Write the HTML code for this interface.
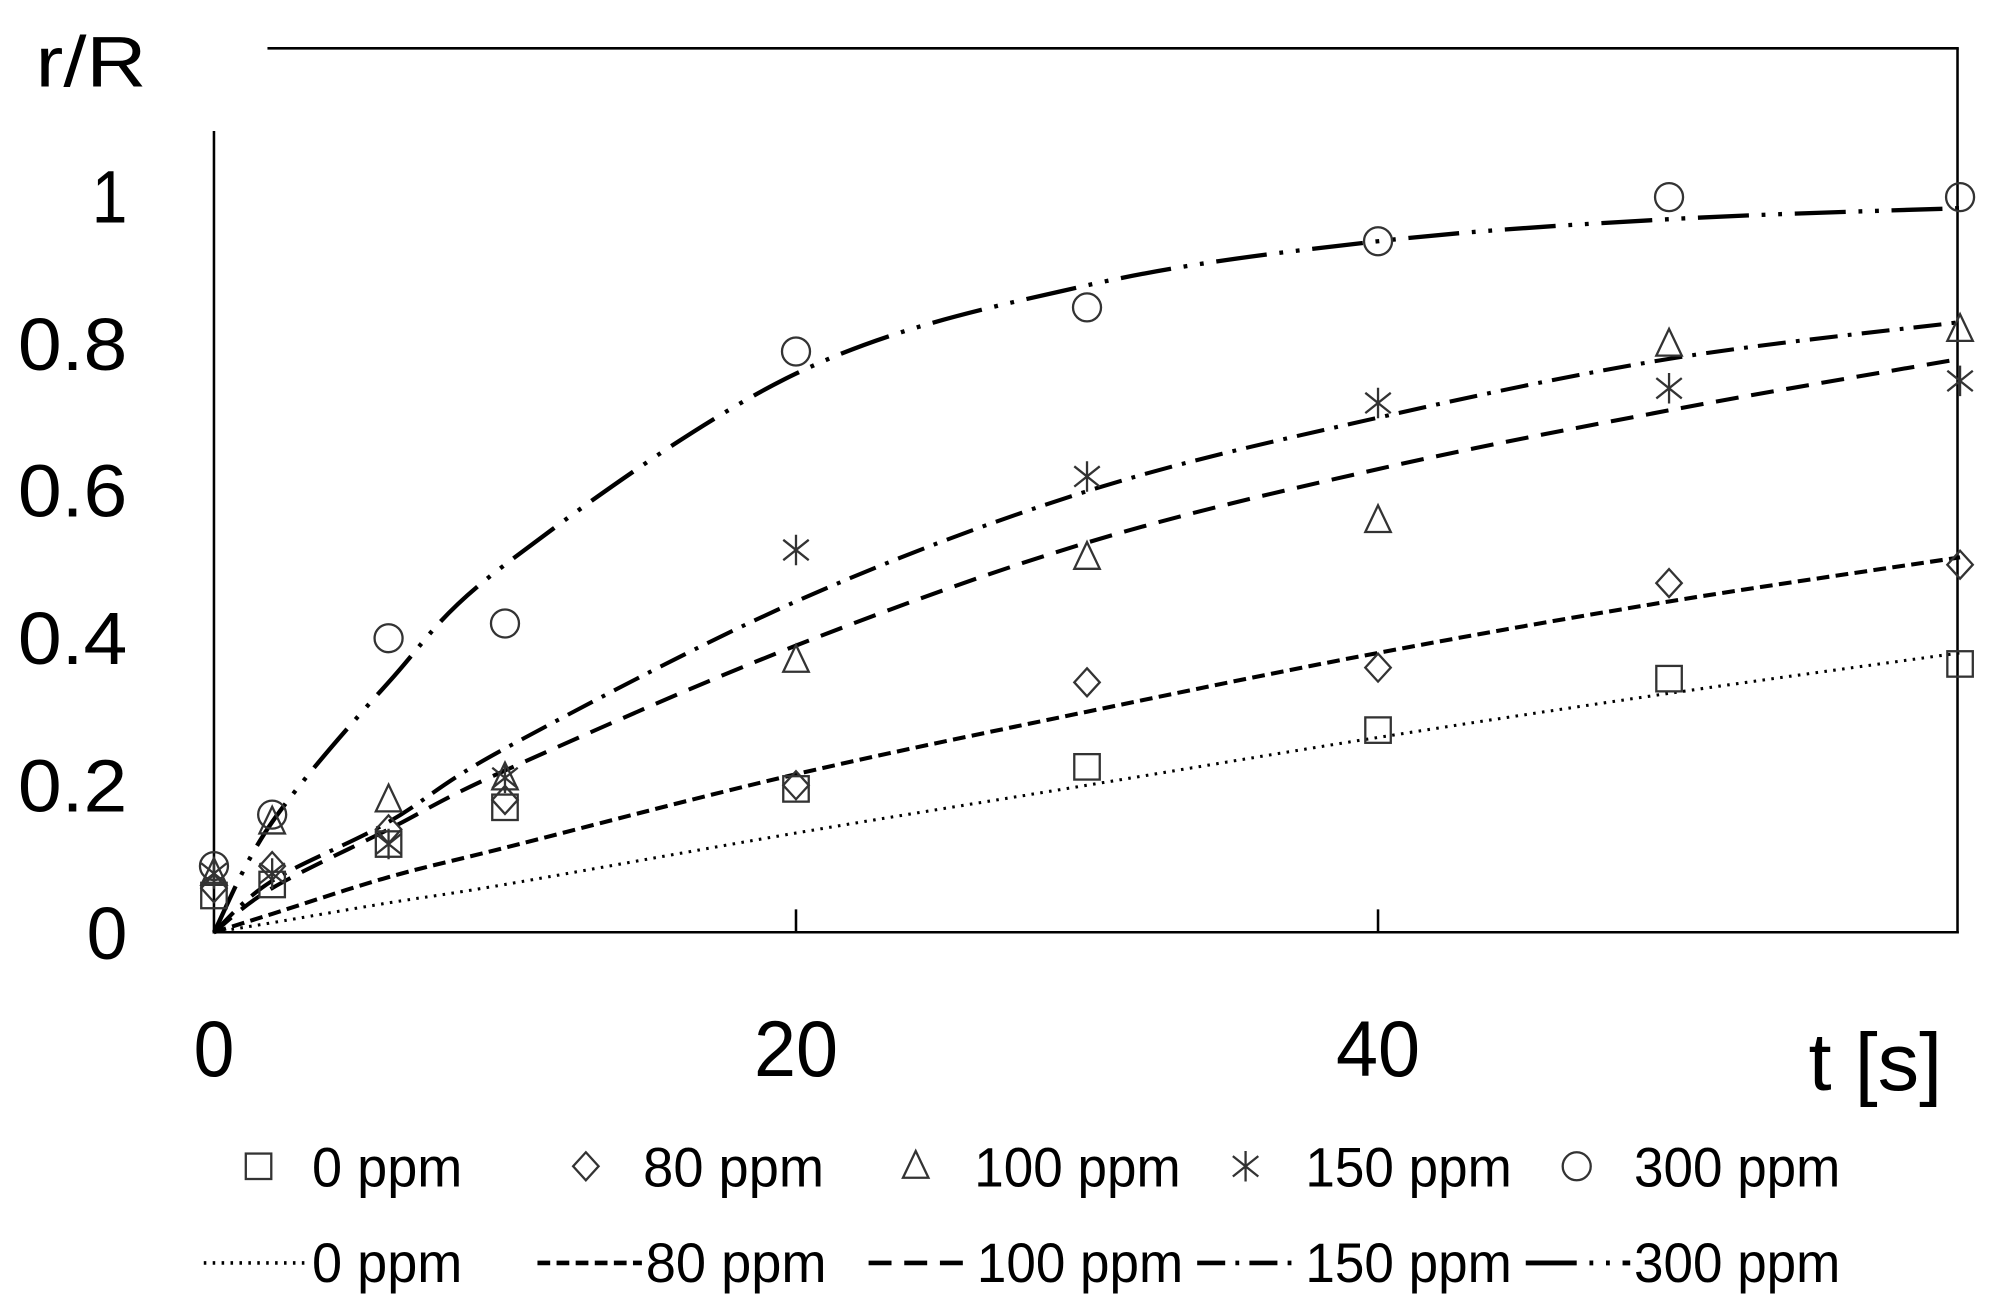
<!DOCTYPE html>
<html><head><meta charset="utf-8"><style>
html,body{margin:0;padding:0;background:#fff;}
svg{display:block;}
text{font-family:"Liberation Sans",sans-serif;fill:#000;}
</style></head><body>
<svg id="s" width="1997" height="1310" viewBox="0 0 1568 1030" preserveAspectRatio="none" xmlns="http://www.w3.org/2000/svg">
<rect width="1568" height="1030" fill="#fff"/>
<g stroke="#000" stroke-width="2" fill="none">
<line x1="168" y1="103" x2="168" y2="734"/>
<line x1="167" y1="733" x2="1538" y2="733"/>
<line x1="210" y1="38" x2="1538" y2="38"/>
<line x1="1537" y1="38" x2="1537" y2="734"/>
<line x1="625" y1="715" x2="625" y2="733"/>
<line x1="1082" y1="715" x2="1082" y2="733"/>
</g>
<g font-size="58" text-anchor="end">
<text x="100" y="175" textLength="28" lengthAdjust="spacingAndGlyphs">1</text>
<text x="100" y="291" textLength="86" lengthAdjust="spacingAndGlyphs">0.8</text>
<text x="100" y="406" textLength="86" lengthAdjust="spacingAndGlyphs">0.6</text>
<text x="100" y="522" textLength="86" lengthAdjust="spacingAndGlyphs">0.4</text>
<text x="100" y="638" textLength="86" lengthAdjust="spacingAndGlyphs">0.2</text>
<text x="100" y="754" textLength="32" lengthAdjust="spacingAndGlyphs">0</text>
</g>
<g font-size="62" text-anchor="middle">
<text x="168" y="846" textLength="32" lengthAdjust="spacingAndGlyphs">0</text>
<text x="625" y="846" textLength="66" lengthAdjust="spacingAndGlyphs">20</text>
<text x="1082" y="846" textLength="66" lengthAdjust="spacingAndGlyphs">40</text>
</g>
<text x="28" y="68" font-size="56" textLength="87" lengthAdjust="spacingAndGlyphs">r/R</text>
<text x="1420" y="857" font-size="64" textLength="105" lengthAdjust="spacingAndGlyphs">t [s]</text>
<g id="plot"></g>
<g id="leg" font-size="44"></g>
</svg>
<script>
var NS="http://www.w3.org/2000/svg";
function X(t){return 168+22.85*t;}
function Y(v){return 733-578*v;}
function el(n,a,p){var e=document.createElementNS(NS,n);for(var k in a)e.setAttribute(k,a[k]);(p||document.getElementById('plot')).appendChild(e);return e;}
var T=[0,2,6,10,20,30,40,50,60];
var lines=[
 {d:"2 5",w:2.4,v:[0,0.013,0.04,0.065,0.135,0.2,0.265,0.325,0.38]},
 {d:"10 5",w:3.2,v:[0,0.025,0.075,0.115,0.215,0.3,0.38,0.45,0.51]},
 {d:"18 10",w:3.2,v:[0,0.06,0.14,0.22,0.39,0.53,0.63,0.71,0.78]},
 {d:"22 8 3 8",w:3.2,v:[0,0.07,0.15,0.25,0.45,0.6,0.7,0.78,0.83]},
 {d:"40 10 3 10 3 10",w:3.4,v:[0,0.15,0.34,0.5,0.76,0.88,0.94,0.97,0.985]}
];
function smooth(P){var d="M"+P[0][0]+" "+P[0][1];
 for(var i=0;i<P.length-1;i++){var p0=P[Math.max(0,i-1)],p1=P[i],p2=P[i+1],p3=P[Math.min(P.length-1,i+2)];
  var c1=[p1[0]+(p2[0]-p0[0])/6,p1[1]+(p2[1]-p0[1])/6],c2=[p2[0]-(p3[0]-p1[0])/6,p2[1]-(p3[1]-p1[1])/6];
  d+=" C"+c1[0]+" "+c1[1]+" "+c2[0]+" "+c2[1]+" "+p2[0]+" "+p2[1];}
 return d;}
lines.forEach(function(L){var P=T.map(function(t,i){return [X(t),Y(L.v[i])];});
 el('path',{d:smooth(P),fill:"none",stroke:"#000","stroke-width":L.w,"stroke-dasharray":L.d});});
var pts={
 sq:[0.05,0.065,0.12,0.17,0.195,0.225,0.275,0.345,0.365],
 di:[0.06,0.09,0.14,0.18,0.2,0.34,0.36,0.475,0.5],
 tr:[0.08,0.15,0.18,0.21,0.37,0.51,0.56,0.80,0.82],
 st:[0.08,0.08,0.12,0.21,0.52,0.62,0.72,0.74,0.75],
 ci:[0.09,0.16,0.40,0.42,0.79,0.85,0.94,1.0,1.0]};
var sty={fill:"none",stroke:"#333","stroke-width":1.8};
function mk(type,x,y,p){var a=Object.assign({},sty);
 if(type=='sq'){a.x=x-10;a.y=y-10;a.width=20;a.height=20;el('rect',a,p);}
 else if(type=='di'){a.points=(x)+","+(y-11)+" "+(x+10)+","+y+" "+x+","+(y+11)+" "+(x-10)+","+y;el('polygon',a,p);}
 else if(type=='tr'){a.points=x+","+(y-12)+" "+(x+10)+","+(y+9)+" "+(x-10)+","+(y+9);el('polygon',a,p);}
 else if(type=='st'){var d="M"+x+" "+(y-12)+"V"+(y+12)+"M"+(x-10)+" "+(y-8)+"L"+(x+10)+" "+(y+8)+"M"+(x-10)+" "+(y+8)+"L"+(x+10)+" "+(y-8);a.d=d;el('path',a,p);}
 else {a.cx=x;a.cy=y;a.r=11;el('circle',a,p);}
}
for(var k in pts){pts[k].forEach(function(v,i){mk(k,X(T[i]),Y(v));});}
var lg=document.getElementById('leg');
var labs=["0 ppm","80 ppm","100 ppm","150 ppm","300 ppm"];
var mx=[203,460,719,978,1238], tx=[245,505,765,1025,1283];
var types=['sq','di','tr','st','ci'];
for(var i=0;i<5;i++){mk(types[i],mx[i],917,lg);
 var t=el('text',{x:tx[i],y:933,textLength:(labs[i].length==5?118:(labs[i].length==6?142:162)),lengthAdjust:"spacingAndGlyphs"},lg);t.textContent=labs[i];}
var lx=[[160,242],[422,504],[682,764],[940,1022],[1198,1280]];
for(var i=0;i<5;i++){var L=lines[i];
 el('line',{x1:lx[i][0],y1:993,x2:lx[i][1],y2:993,stroke:"#000","stroke-width":L.w+0.5,"stroke-dasharray":L.d},lg);
 var t=el('text',{x:lx[i][1]+3,y:1008,textLength:(labs[i].length==5?118:(labs[i].length==6?142:162)),lengthAdjust:"spacingAndGlyphs"},lg);t.textContent=labs[i];}
</script>
</body></html>
